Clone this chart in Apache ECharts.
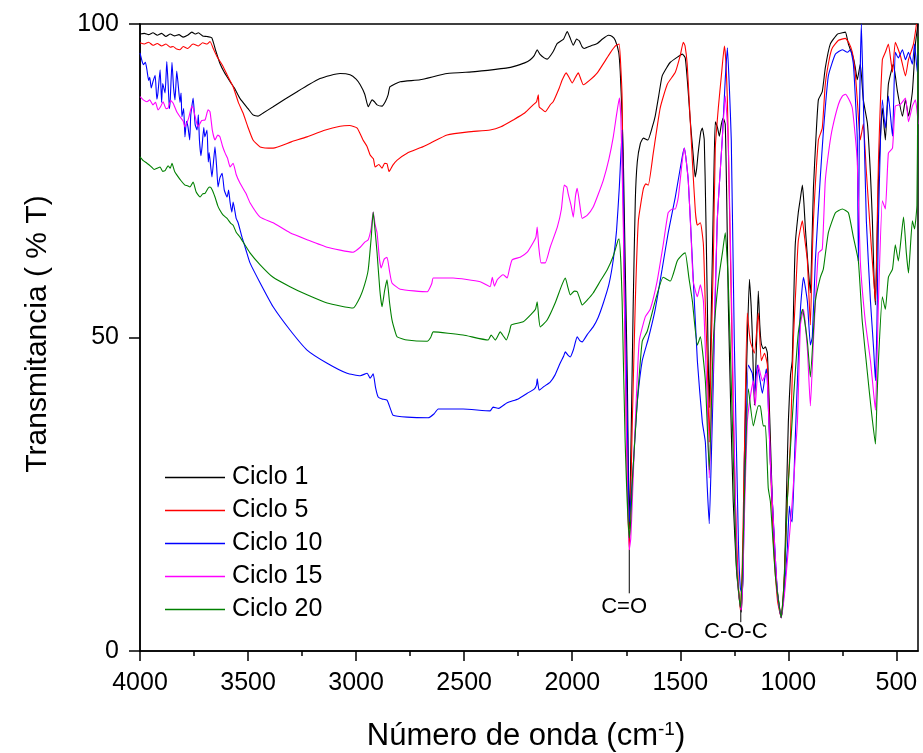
<!DOCTYPE html>
<html><head><meta charset="utf-8">
<script src="https://cdn.jsdelivr.net/npm/echarts@6/dist/echarts.min.js"></script>
<style>html,body{margin:0;padding:0;background:#fff}#c{width:923px;height:753px}</style>
</head><body><div id="c"></div>
<script>
const xMajorTicks = [500,1000,1500,2000,2500,3000,3500,4000];
const xMinorTicks = [750,1250,1750,2250,2750,3250,3750];
const yTicks = [0,50,100];
const seriesNames = ['Ciclo 1','Ciclo 5','Ciclo 10','Ciclo 15','Ciclo 20'];
const seriesColors = ['#000000','#ff0000','#0000ff','#ff00ff','#008000'];
const xTitle = '{a|Número de onda (cm}{s|-1}{a|)}';
const yTitle = 'Transmitancia ( % T)';

// [wavenumber (cm-1), transmittance (%T)]
const ciclo1 = [[4000,98.4],[3980,98.5],[3960,98.3],[3940,98.6],[3920,98.2],[3900,98.5],[3880,98.0],[3860,98.4],[3840,98.1],[3820,98.3],[3800,97.9],[3780,98.2],[3760,98.7],[3745,98.4],[3730,98.6],[3710,98.1],[3690,98.0],[3668,97.8],[3650,95.8],[3630,93.7],[3610,92.3],[3583,90.8],[3560,89.6],[3537,88.1],[3500,86.5],[3477,85.5],[3454,85.3],[3430,85.8],[3384,86.8],[3330,88.0],[3273,89.2],[3220,90.3],[3167,91.3],[3120,91.8],[3074,92.1],[3028,91.9],[3000,91.2],[2981,90.3],[2960,88.8],[2944,86.8],[2926,87.9],[2915,87.6],[2903,87.1],[2880,86.9],[2865,87.6],[2852,88.7],[2843,90.0],[2796,90.8],[2704,91.1],[2579,92.1],[2450,92.4],[2347,92.8],[2300,93.0],[2273,93.2],[2220,93.8],[2194,94.3],[2175,95.0],[2162,95.9],[2150,95.2],[2130,94.6],[2116,94.4],[2090,95.5],[2069,96.9],[2040,97.6],[2023,98.8],[2010,97.8],[1995,96.6],[1980,97.6],[1967,97.3],[1955,96.4],[1944,96.1],[1915,96.5],[1884,96.9],[1860,97.6],[1833,98.2],[1815,98.0],[1801,97.4],[1785,95.5],[1778,92.5],[1770,86],[1764,79.4],[1755,62],[1745,43.1],[1736,19.5],[1727,35],[1718,55],[1708,72],[1699,78],[1685,80.9],[1671,81.8],[1650,81.5],[1630,83.5],[1616,85.3],[1600,88.5],[1584,91.7],[1560,93.2],[1546,93.9],[1510,94.8],[1491,95.2],[1477,94.6],[1465,90],[1454,84.7],[1440,79],[1431,75.6],[1424,77],[1417,79.5],[1405,82.8],[1398,83.4],[1389,81.5],[1382,70],[1375,55.8],[1370,45],[1366,38.8],[1360,48],[1352,62.2],[1345,75],[1338,84.4],[1328,83.5],[1319,82.1],[1310,84],[1301,85],[1292,84],[1285,72],[1278,55.8],[1266,38],[1255,23.8],[1240,13],[1231,9.7],[1218,6.2],[1210,12],[1204,30],[1197,40],[1190,49.4],[1180,59.3],[1172,55],[1167,50.7],[1157,39.2],[1148,48],[1139,57.4],[1132,52],[1125,49],[1116,48.2],[1106,48.5],[1097,47.5],[1085,36],[1074,23.8],[1062,15],[1051,9.7],[1033,5.3],[1022,9],[1014,17.4],[1000,36.5],[990,44],[982,46.3],[975,56],[968,64.8],[954,69.9],[945,72],[935,74.3],[928,71.5],[921,67.3],[910,62],[898,57.1],[890,66],[884,73.7],[872,82],[861,87.9],[843,89.2],[829,93],[806,96.8],[773,98.4],[750,98.6],[736,98.7],[722,96.8],[699,94.6],[690,93],[681,91.1],[667,93.6],[653,87.9],[634,84.1],[620,76],[611,68.6],[604,60],[597,55.2],[590,64],[583,75],[565,86.6],[551,81.5],[537,90.4],[514,93.6],[495,89.2],[472,85.3],[458,87.9],[444,85.3],[426,89.2],[412,96.8],[400,100]];

const ciclo5 = [[4000,97.0],[3980,96.8],[3960,97.1],[3940,96.6],[3920,96.9],[3900,96.5],[3880,96.8],[3860,96.3],[3847,96.4],[3830,96.0],[3815,95.9],[3800,96.4],[3780,96.1],[3760,96.7],[3754,96.8],[3730,96.5],[3710,97.0],[3690,96.8],[3676,97.2],[3660,96.0],[3644,94.8],[3620,93.5],[3597,91.9],[3569,90],[3545,87.5],[3523,85.8],[3500,83.5],[3477,81.5],[3444,80.4],[3384,80.2],[3300,81.2],[3227,82],[3150,83],[3074,83.7],[3030,83.8],[2995,83.4],[2968,81.5],[2950,80.5],[2935,79.1],[2920,78.5],[2912,77.2],[2895,77.6],[2880,77],[2868,77.8],[2857,77.7],[2848,76.5],[2843,76.7],[2830,77.5],[2810,78.3],[2764,79.4],[2700,80.3],[2657,81],[2579,82.3],[2480,82.8],[2380,83.1],[2330,83.6],[2273,84.7],[2220,85.8],[2181,87.1],[2165,87.6],[2157,88.7],[2153,86.8],[2140,86.4],[2125,86],[2100,87.2],[2088,87.6],[2060,89.8],[2046,91.1],[2028,92.2],[2015,91.5],[2000,90.6],[1985,91.5],[1972,92.2],[1960,91.2],[1949,90.3],[1920,91.0],[1884,92.2],[1850,94],[1824,95.4],[1800,96.5],[1783,96.8],[1775,93],[1769,87.9],[1759,55.8],[1745,27],[1736,16.1],[1729,25],[1722,36.5],[1708,55.8],[1694,68.6],[1671,73.7],[1660,74.5],[1648,74.3],[1625,79.4],[1593,86.6],[1560,90.4],[1523,92.3],[1500,95],[1486,97.1],[1478,96.5],[1468,93.6],[1456,86],[1444,78.1],[1430,70],[1421,67.9],[1407,68.3],[1393,64.8],[1384,55],[1375,46.3],[1366,33.3],[1357,48],[1347,62.2],[1338,80.2],[1324,86.6],[1310,91.7],[1296,96.5],[1289,94],[1282,87.9],[1273,72],[1264,55.8],[1255,38],[1245,23.8],[1232,11],[1222,6.5],[1213,14],[1204,30.1],[1190,53.9],[1176,49.4],[1157,47.5],[1139,53.9],[1125,46.3],[1110,47.5],[1097,45.6],[1083,30],[1069,17.4],[1050,8],[1033,5.3],[1018,12],[1005,23.8],[991,33],[977,49.4],[965,58],[954,65.4],[935,68.6],[925,66],[912,62.2],[898,52],[890,62],[884,68.6],[861,81.5],[843,83.4],[829,90.4],[810,94.5],[796,96.2],[768,97.4],[736,97.7],[720,97],[704,95.5],[690,92],[681,87.9],[667,81.5],[653,84.1],[640,77],[630,71.8],[615,64],[597,55.8],[590,66],[583,78.1],[565,94.3],[551,95.5],[537,96.8],[525,94],[518,92.3],[505,97.1],[481,94.9],[458,91.7],[444,94.3],[421,96.8],[407,100]];

const ciclo10 = [[4000,95.4],[3990,94.0],[3985,93.5],[3975,93.9],[3968,92.7],[3960,91.0],[3955,91.5],[3948,89.8],[3940,90.8],[3930,91.8],[3922,88.0],[3917,89],[3907,92.7],[3900,87.5],[3895,90.5],[3884,89],[3876,94.0],[3870,90.5],[3864,86.5],[3860,88],[3852,93.9],[3845,90],[3838,87.9],[3830,92.5],[3824,90.6],[3815,87.5],[3810,89.0],[3806,85.2],[3798,86.5],[3792,82],[3785,84.5],[3778,83.6],[3770,81.5],[3765,85.5],[3754,88.2],[3745,84],[3736,83.1],[3730,85.5],[3725,81.5],[3718,79.0],[3713,80.4],[3705,83.5],[3700,82],[3690,83.1],[3684,78.0],[3680,79.5],[3672,77.0],[3667,75.6],[3660,78],[3653,80.4],[3645,77],[3639,74],[3630,75.5],[3620,76.2],[3610,73.5],[3597,72.4],[3590,73.5],[3583,71.5],[3575,70.0],[3569,71.6],[3555,69],[3546,68.3],[3528,66],[3510,64],[3491,61.9],[3444,58.7],[3384,54.9],[3306,51.2],[3227,48],[3134,45.9],[3042,44.3],[2981,43.9],[2949,44.3],[2935,43.5],[2921,44.2],[2910,42],[2898,40.5],[2880,40.2],[2857,40],[2840,38.5],[2829,37.6],[2764,37.3],[2667,37.2],[2640,37.8],[2620,38.6],[2505,38.6],[2380,38.3],[2366,38.9],[2340,38.7],[2301,39.6],[2250,40.2],[2208,41.1],[2175,41.8],[2165,42.5],[2162,43.4],[2153,41.6],[2130,42.2],[2102,42.9],[2080,44],[2056,45.9],[2040,47],[2032,47.7],[2020,47.2],[2009,46.9],[1995,48],[1977,50.1],[1965,49.5],[1954,49.3],[1930,50.5],[1903,51.7],[1880,53.2],[1856,55.5],[1830,58.5],[1810,62.4],[1795,67],[1782,74],[1769,83.1],[1759,62.2],[1745,36.5],[1736,20.6],[1729,24],[1722,27],[1710,34],[1699,39.7],[1676,46.3],[1648,49.8],[1616,54.5],[1584,60.9],[1556,66.7],[1523,72.4],[1491,78.8],[1481,80.2],[1463,75],[1444,62.2],[1421,46.3],[1398,36.5],[1384,33.3],[1375,26],[1366,20.3],[1357,30],[1347,43.1],[1329,68.6],[1306,81.5],[1292,91.1],[1282,96.2],[1273,90],[1264,81.5],[1250,49.4],[1231,17.4],[1222,10],[1213,9.1],[1208,15],[1204,23.8],[1185,45.6],[1167,44.3],[1157,41.1],[1143,45.6],[1120,41.1],[1102,45],[1097,43.1],[1083,30],[1069,20.6],[1050,9],[1033,5.3],[1018,10],[1005,16.1],[995,23.1],[988,21],[982,20.6],[970,32],[958,43.1],[944,54.5],[930,59.6],[912,55.8],[898,48.8],[889,50.1],[875,62.2],[852,75.6],[838,82.8],[815,91.7],[782,95.2],[750,95.9],[727,95.5],[713,95.9],[699,93.6],[688,87],[681,81.5],[676,62.2],[671,84.7],[662,100],[653,87.9],[639,68.6],[620,55.8],[605,48],[597,43.1],[590,52],[583,68.6],[565,87.9],[551,83.4],[537,88.5],[518,82.1],[505,95.5],[491,94.6],[472,95.9],[458,94.3],[444,95.5],[426,93.6],[416,96.8],[403,92.3],[400,95]];

const ciclo15 = [[4000,88.4],[3985,87.9],[3968,87.6],[3955,87.9],[3940,87.1],[3928,87.5],[3917,86.3],[3905,86.8],[3893,87.6],[3880,86.5],[3870,86.6],[3858,87.8],[3847,87.4],[3830,86],[3815,85.2],[3800,84.5],[3792,83.6],[3775,85],[3760,86.9],[3754,86.6],[3740,84.5],[3731,83.6],[3715,84.6],[3699,84.7],[3685,86.3],[3676,86],[3665,83],[3653,81.5],[3640,82.3],[3630,82],[3618,80.5],[3606,79.4],[3595,78.6],[3583,77.2],[3569,77.8],[3555,76],[3537,74.6],[3510,73],[3491,71.5],[3444,69.2],[3384,68.3],[3306,66.7],[3227,65.6],[3134,64.4],[3014,63.6],[2981,64.4],[2960,65.2],[2944,65.6],[2930,67.5],[2921,70],[2912,68],[2903,66.7],[2892,62.5],[2884,61.1],[2870,62.5],[2857,62.8],[2845,60.5],[2834,58.7],[2796,57.7],[2671,57.3],[2650,58.6],[2643,59.5],[2551,59.5],[2426,58.9],[2380,58.1],[2370,59.6],[2360,58.2],[2347,59.2],[2330,59.8],[2319,60],[2301,59.5],[2290,61],[2278,62.4],[2241,62.8],[2208,63.6],[2181,65.1],[2168,66],[2162,67.6],[2155,64.5],[2144,61.9],[2125,61.9],[2102,64.4],[2069,67.6],[2050,70.5],[2037,74.3],[2025,74],[2019,73],[2005,71],[1995,69.2],[1985,72.5],[1977,73.8],[1965,71.2],[1954,69],[1930,69.5],[1903,70.8],[1880,72.8],[1856,75.1],[1830,78.5],[1810,82],[1795,85.5],[1782,88.2],[1775,85],[1764,68.6],[1750,36.5],[1736,16.1],[1729,18],[1722,23.8],[1708,36.5],[1690,49.4],[1662,53.3],[1639,54.5],[1607,59],[1579,64.8],[1556,69.9],[1537,70.5],[1523,70.5],[1509,72.4],[1491,78.1],[1481,80.2],[1463,75],[1450,66],[1440,59],[1421,56.5],[1407,58.4],[1393,55.8],[1384,48],[1375,39.7],[1366,27.6],[1357,36],[1347,46.3],[1329,68.6],[1306,81.5],[1292,88.5],[1278,81.5],[1259,49.4],[1241,17.4],[1230,9],[1218,6.5],[1210,12],[1204,20.6],[1190,36.5],[1176,40.5],[1162,43.1],[1153,39.1],[1139,45.6],[1120,43.1],[1102,44.3],[1097,43.1],[1083,30],[1069,20.6],[1050,9],[1033,5.3],[1018,9],[1005,14.2],[982,23.8],[958,36.5],[944,52],[930,54.5],[912,48.2],[898,39.1],[884,49.4],[861,63.5],[843,64.1],[829,75],[810,80.5],[796,83.4],[768,87.2],[750,88.5],[736,88.8],[720,88],[704,86.6],[690,82],[681,78.1],[667,62.2],[644,52.6],[620,46.3],[605,41],[597,38.4],[590,46],[583,55.8],[565,71.8],[551,70.5],[537,79.4],[518,80.2],[505,86.9],[481,87.2],[458,88.2],[444,84.4],[426,86.9],[412,87.9],[403,85.6],[400,84]];

const ciclo20 = [[4000,78.8],[3985,78.2],[3968,77.8],[3950,77.3],[3935,76.8],[3921,77],[3907,77.2],[3895,76.5],[3884,76.6],[3870,77.4],[3860,77.0],[3852,77.8],[3840,76.5],[3829,75.9],[3810,75],[3792,74.3],[3780,74.2],[3769,74],[3754,74.8],[3740,73.2],[3722,72.4],[3710,72.9],[3699,73],[3685,73.8],[3676,74],[3665,73.5],[3653,72.4],[3640,71],[3630,70.3],[3615,69.5],[3597,69],[3580,68.2],[3569,67.9],[3555,66.8],[3537,66],[3491,63.5],[3444,61.6],[3384,59.6],[3306,58.1],[3227,56.8],[3134,55.5],[3014,54.7],[2981,56.5],[2960,58.5],[2944,60.8],[2930,66],[2921,70],[2912,67],[2903,63.5],[2890,57.5],[2880,54.9],[2868,57.5],[2857,59.2],[2845,55.5],[2834,52.8],[2820,51],[2810,50.1],[2764,49.6],[2671,49.4],[2655,50],[2643,50.9],[2505,50.4],[2389,49.6],[2375,50.4],[2356,49.6],[2333,50.9],[2318,50.2],[2305,49.6],[2290,51],[2282,52],[2227,52.5],[2185,53.9],[2170,54.5],[2162,55.7],[2155,53.2],[2148,51.7],[2116,52.8],[2079,55.5],[2050,58.2],[2032,59.5],[2020,58],[2009,56.8],[1990,57.4],[1977,57.3],[1965,56.2],[1954,55.2],[1930,56],[1903,57.1],[1870,59],[1838,60.8],[1810,63],[1787,65.6],[1783,65.7],[1775,62],[1769,55.8],[1755,33.3],[1736,18],[1729,21],[1722,27],[1699,39.7],[1676,49.4],[1653,51],[1616,55.8],[1579,59.6],[1546,59],[1514,62.2],[1490,63.2],[1477,63.5],[1460,59.5],[1444,55.8],[1421,48.8],[1407,50.1],[1384,43.1],[1366,28.9],[1347,49.4],[1324,59],[1305,63.5],[1292,66.7],[1278,59],[1259,36.5],[1241,14.2],[1222,6.9],[1213,12],[1204,23.8],[1185,41.8],[1162,35.9],[1139,39.1],[1130,39.1],[1116,35.9],[1106,35.9],[1093,26],[1083,23.8],[1060,12],[1033,5.3],[1018,12],[1005,23.8],[977,39.7],[954,50.7],[935,54.5],[912,49.4],[898,43.7],[875,55.8],[852,59.6],[838,60.9],[815,66.7],[782,69.9],[750,70.5],[722,69.9],[699,66],[676,62.2],[658,52.6],[634,44.3],[615,38],[597,33],[590,40],[583,46.3],[565,56.5],[551,54.5],[537,59.6],[518,60.9],[505,64.8],[491,62.2],[467,69.2],[454,63.5],[444,60.3],[426,68.6],[416,67.3],[405,71.1],[401,90],[400,98]];

const seriesData = [ciclo1, ciclo5, ciclo10, ciclo15, ciclo20];

// annotations: label, wavenumber, line from T to T, label position
const annotLabels = ['C=O', 'C-O-C'];
const annotWn = [1736, 1220];
const annotLineTop = [16.1, 6.5];
const annotLineBottom = [9.2, 4.6];
const annotTextWn = [1760, 1243];
const annotTextT = [7.0, 3.0];

const FONT = 'Liberation Sans, Arial, sans-serif';
const chart = echarts.init(document.getElementById('c'), null, {renderer: 'canvas'});

const option = {
  animation: false,
  backgroundColor: '#fff',
  grid: {left: 140, right: 5, top: 24, bottom: 102, show: true, borderColor: '#000', borderWidth: 1.5, containLabel: false, outerBoundsMode: 'none'},
  legend: {
    data: seriesNames, orient: 'vertical', left: 160, top: 460,
    icon: 'rect', itemWidth: 60, itemHeight: 1.5, itemGap: 8,
    textStyle: {fontSize: 25, fontFamily: FONT, color: '#000', lineHeight: 25, padding: [0, 0, 0, 2]}
  },
  xAxis: [{
    type: 'value', min: 400, max: 4000, inverse: true, position: 'bottom',
    axisLine: {show: true, onZero: false, lineStyle: {color: '#000', width: 1.5}},
    axisTick: {show: true, inside: false, length: 10, customValues: xMajorTicks, lineStyle: {color: '#000', width: 1.5}},
    axisLabel: {show: true, customValues: xMajorTicks, formatter: v => String(v), fontSize: 25, fontFamily: FONT, color: '#000', margin: 20},
    splitLine: {show: false}
  }, {
    type: 'value', min: 400, max: 4000, inverse: true, position: 'bottom',
    axisLine: {show: false, onZero: false},
    axisTick: {show: true, inside: false, length: 5, customValues: xMinorTicks, lineStyle: {color: '#000', width: 1.5}},
    axisLabel: {show: false},
    splitLine: {show: false}
  }],
  yAxis: {
    type: 'value', min: 0, max: 100, interval: 50,
    axisLine: {show: true, lineStyle: {color: '#000', width: 1.5}},
    axisTick: {show: true, inside: false, length: 11, lineStyle: {color: '#000', width: 1.5}},
    axisLabel: {formatter: v => String(v), fontSize: 25, fontFamily: FONT, color: '#000', margin: 21},
    splitLine: {show: false}
  },
  series: seriesNames.map((n, i) => ({
    type: 'line', name: n, data: seriesData[i], xAxisIndex: 0, yAxisIndex: 0,
    symbol: 'none', showSymbol: false, smooth: 0.15,
    lineStyle: {width: 1.1, color: seriesColors[i]}, itemStyle: {color: seriesColors[i]},
    z: 2 + i
  }))
};
chart.setOption(option);

function px(wn, t) { return chart.convertToPixel({xAxisIndex: 0, yAxisIndex: 0}, [wn, t]); }
const graphics = [];
annotLabels.forEach((lab, i) => {
  const a = px(annotWn[i], annotLineTop[i]);
  const b = px(annotWn[i], annotLineBottom[i]);
  const t = px(annotTextWn[i], annotTextT[i]);
  graphics.push({type: 'line', shape: {x1: a[0], y1: a[1], x2: b[0], y2: b[1]}, style: {stroke: '#000', lineWidth: 1}, z: 10});
  graphics.push({type: 'text', x: t[0], y: t[1], style: {text: lab, fill: '#000', font: '22px ' + FONT, textAlign: 'center', textVerticalAlign: 'middle'}, z: 10});
});
graphics.push({type: 'text', x: 38, y: 334, rotation: Math.PI / 2,
  style: {text: yTitle, fill: '#000', font: '30px ' + FONT, textAlign: 'center', textVerticalAlign: 'middle'}});
graphics.push({type: 'text', x: 526, y: 736,
  style: {text: xTitle, fill: '#000', textAlign: 'center', textVerticalAlign: 'middle',
    rich: {a: {fontSize: 31, fontFamily: FONT, fill: '#000'}, s: {fontSize: 19, fontFamily: FONT, fill: '#000', verticalAlign: 'top'}}}});
chart.setOption({graphic: graphics});
</script>
</body></html>
